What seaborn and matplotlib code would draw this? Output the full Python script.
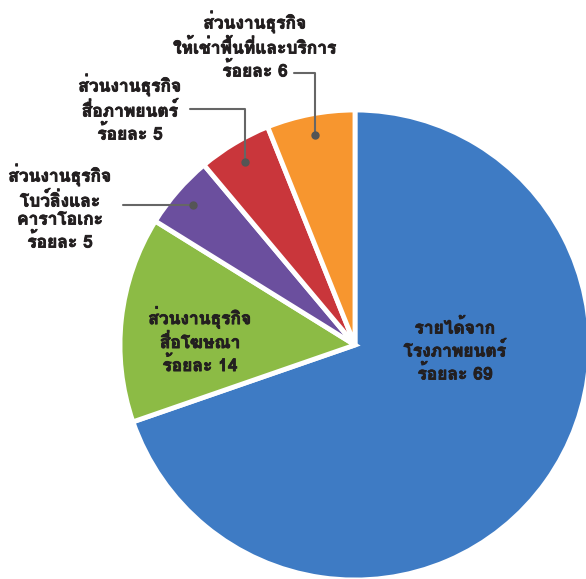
import numpy as np
import matplotlib
matplotlib.use("Agg")
import matplotlib.pyplot as plt
import matplotlib.patheffects as pe
import seaborn as sns
from matplotlib import font_manager, ft2font

labels = ["รายได้จาก\nโรงภาพยนตร์\nร้อยละ 69",
          "ส่วนงานธุรกิจ\nสื่อโฆษณา\nร้อยละ 14",
          "ส่วนงานธุรกิจ\nโบว์ลิ่งและ\nคาราโอเกะ\nร้อยละ 5",
          "ส่วนงานธุรกิจ\nสื่อภาพยนตร์\nร้อยละ 5",
          "ส่วนงานธุรกิจ\nให้เช่าพื้นที่และบริการ\nร้อยละ 6"]
values = [69, 14, 5, 5, 6]
colors = ["#3E7BC4", "#8CBB45", "#6B4F9E", "#C9363B", "#F7962F"]

sns.set_style("white")

# look for a font that has thai glyphs
thai = None
for f in font_manager.fontManager.ttflist:
    try:
        if ft2font.FT2Font(f.fname).get_char_index(0x0E2A):
            thai = f.name
            break
    except Exception:
        pass
fams = [thai, "DejaVu Sans"] if thai else ["DejaVu Sans"]
plt.rcParams["font.family"] = fams

fig = plt.figure(figsize=(5.86, 5.79), dpi=100)
ax = fig.add_axes([0, 0, 1, 1])
R = 235.0
def px(x, y):
    return ((x - 355) / R, (345 - y) / R)

wedges, _ = ax.pie(values, colors=colors, startangle=90, counterclock=False,
                   radius=1, wedgeprops=dict(edgecolor="white", linewidth=3.5))

ax.set_xlim(-355 / R, (586 - 355) / R)
ax.set_ylim(-(579 - 345) / R, 345 / R)
ax.set_aspect("equal")
ax.axis("off")

tc = "#231F20"
bold = [pe.withStroke(linewidth=0.6, foreground=tc)]
# labels inside
x, y = px(455, 350)
ax.text(x, y, labels[0], ha="center", va="center", fontsize=12.5, fontweight="bold",
        color=tc, linespacing=1.25, path_effects=bold)
x, y = px(200, 340)
ax.text(x, y, labels[1], ha="center", va="center", fontsize=12.5, fontweight="bold",
        color=tc, linespacing=1.25, path_effects=bold)

# outside labels with leader lines
outside = [(2, (60, 207), (123, 201)),
           (3, (130, 108), (190, 109)),
           (4, (255, 45), (294, 73))]
for i, tpos, lstart in outside:
    x, y = px(*tpos)
    ax.text(x, y, labels[i], ha="center", va="center", fontsize=12.5, fontweight="bold",
            color=tc, linespacing=1.25, path_effects=bold)
    w = wedges[i]
    mid = np.deg2rad((w.theta1 + w.theta2) / 2)
    dx, dy = 0.91 * np.cos(mid), 0.91 * np.sin(mid)
    sx, sy = px(*lstart)
    if abs(dy - sy) < 0.03:
        ax.plot([sx, dx], [dy, dy], color="#666666", lw=1.5)
    else:
        ax.plot([sx, dx, dx], [sy, sy, dy], color="#666666", lw=1.5)
    ax.plot(dx, dy, "o", color="#555555", ms=5)

plt.savefig("out.png", dpi=100)
